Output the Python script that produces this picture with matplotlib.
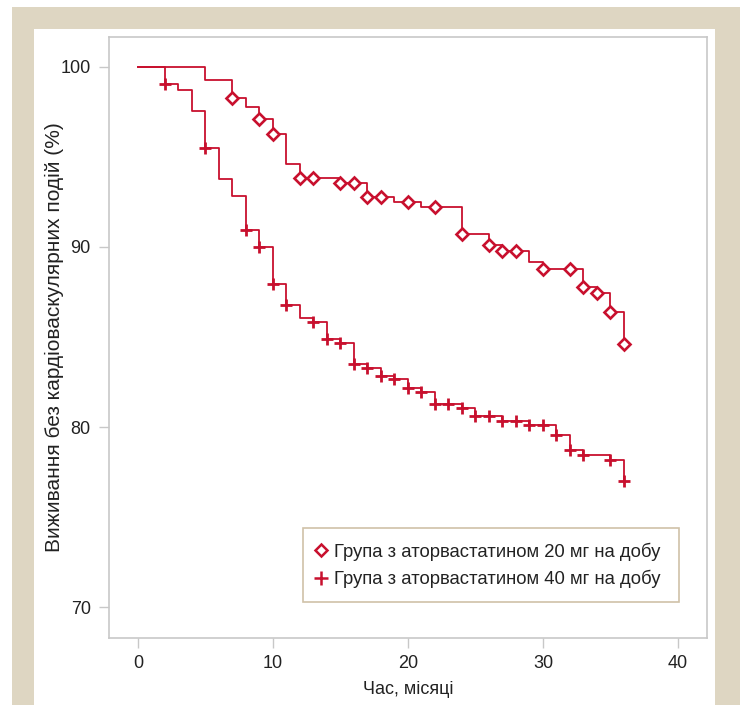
import matplotlib
matplotlib.use("Agg")
import matplotlib.pyplot as plt
from matplotlib.patches import Rectangle
from matplotlib.lines import Line2D

# ---- data ----
# 20 mg group: step times and survival after each step
t20_steps = [0, 5, 7, 8, 9, 10, 11, 12, 15, 17, 19, 21, 24, 26, 27, 29, 30, 33, 34, 35, 36]
s20_steps = [100, 99.28, 98.3, 97.8, 97.1, 96.3, 94.6, 93.85, 93.57, 92.8, 92.5, 92.2,
             90.72, 90.1, 89.8, 89.18, 88.8, 87.8, 87.43, 86.37, 84.6]
t20_marks = [7, 9, 10, 12, 13, 15, 16, 17, 18, 20, 22, 24, 26, 27, 28, 30, 32, 33, 34, 35, 36]
s20_marks = [98.3, 97.1, 96.3, 93.85, 93.85, 93.57, 93.57, 92.8, 92.8, 92.5, 92.2, 90.72,
             90.1, 89.8, 89.8, 88.8, 88.8, 87.8, 87.43, 86.37, 84.6]

# 40 mg group
t40_steps = [0, 2, 3, 4, 5, 6, 7, 8, 9, 10, 11, 12, 13, 14, 15, 16, 17, 18, 19, 20, 21, 22,
             24, 25, 27, 29, 31, 32, 33, 35, 36]
s40_steps = [100, 99.06, 98.7, 97.57, 95.48, 93.8, 92.85, 90.96, 90.02, 87.94, 86.8, 86.04,
             85.85, 84.87, 84.68, 83.48, 83.26, 82.83, 82.65, 82.18, 81.96, 81.28,
             81.04, 80.61, 80.35, 80.11, 79.56, 78.72, 78.44, 78.17, 77.0]
t40_marks = [2, 5, 8, 9, 10, 11, 13, 14, 15, 16, 17, 18, 19, 20, 21, 22, 23, 24, 25, 26, 27,
             28, 29, 30, 31, 32, 33, 35, 36]
s40_marks = [99.06, 95.48, 90.96, 90.02, 87.94, 86.8, 85.85, 84.87, 84.68, 83.48, 83.26,
             82.83, 82.65, 82.18, 81.96, 81.28, 81.28, 81.04, 80.61, 80.61, 80.35, 80.35,
             80.11, 80.11, 79.56, 78.72, 78.44, 78.17, 77.0]

x_ticks = [0, 10, 20, 30, 40]
y_ticks = [70, 80, 90, 100]
label20 = "Група з аторвастатином 20 мг на добу"
label40 = "Група з аторвастатином 40 мг на добу"
x_label = "Час, місяці"
y_label = "Виживання без кардіоваскулярних подій (%)"

# ---- style ----
plt.rcParams['font.family'] = ['Liberation Sans', 'DejaVu Sans']
RED = '#c8102e'
TXT = '#222222'
GRAY = '#c8c8c8'
BEIGE = '#ded6c2'

W, H = 740, 705
fig = plt.figure(figsize=(W / 100, H / 100), dpi=100, facecolor='white')

# background frames
fig.patches.append(Rectangle((12 / W, 0), 1 - 12 / W, 1 - 7 / H, transform=fig.transFigure,
                             facecolor=BEIGE, edgecolor='none', zorder=-10))
fig.patches.append(Rectangle((34 / W, 0), (715 - 34) / W, 1 - 29 / H, transform=fig.transFigure,
                             facecolor='white', edgecolor='none', zorder=-9))

left, right, top, bottom = 108.7, 707, 36.7, 638
ax = fig.add_axes([left / W, 1 - bottom / H, (right - left) / W, (bottom - top) / H])
ax.set_facecolor('white')

ax.step(t20_steps, s20_steps, where='post', color=RED, lw=1.3, zorder=2)
ax.step(t40_steps, s40_steps, where='post', color=RED, lw=1.3, zorder=2)
ax.plot(t20_marks, s20_marks, linestyle='none', marker='D', markersize=6.5,
        markerfacecolor='white', markeredgecolor=RED, markeredgewidth=1.9, zorder=3)
ax.plot(t40_marks, s40_marks, linestyle='none', marker='+', markersize=8.5,
        markeredgecolor=RED, markeredgewidth=2.0, zorder=3)

ax.set_xlim(-2.17, 42.15)
ax.set_ylim(68.28, 101.68)
ax.set_xticks(x_ticks)
ax.set_yticks(y_ticks)
for s in ax.spines.values():
    s.set_color(GRAY)
    s.set_linewidth(1.2)
ax.tick_params(axis='both', direction='out', length=7.5, width=1, color=GRAY,
               labelcolor=TXT, labelsize=13)
ax.tick_params(axis='x', pad=5)
ax.tick_params(axis='y', pad=5.5)

ax.set_xlabel(x_label, fontsize=13, color=TXT)
ax.xaxis.set_label_coords(0.5, (bottom - 690) / (bottom - top))
ax.xaxis.label.set_va('center')
ax.set_ylabel(y_label, fontsize=15, color=TXT)
ax.yaxis.set_label_coords((54 - left) / (right - left), 0.5)
ax.yaxis.label.set_va('center')

handles = [Line2D([], [], linestyle='none', marker='D', markersize=6.3, markerfacecolor='white',
                  markeredgecolor=RED, markeredgewidth=1.8),
           Line2D([], [], linestyle='none', marker='+', markersize=9.5, markeredgecolor=RED,
                  markeredgewidth=1.8)]
lx0 = (303 - left) / (right - left)
lx1 = (679 - left) / (right - left)
ly0 = (bottom - 602) / (bottom - top)
ly1 = (bottom - 529) / (bottom - top)
leg = ax.legend(handles, [label20, label40], loc='lower left',
                bbox_to_anchor=(lx0, ly0, lx1 - lx0, ly1 - ly0), mode='expand',
                borderaxespad=0, fontsize=13.3, frameon=True, fancybox=False,
                borderpad=0.75, handlelength=0.4, handletextpad=0.55, labelspacing=0.5)
leg.get_frame().set_edgecolor('#c4b292')
leg.get_frame().set_linewidth(1.2)
for t in leg.get_texts():
    t.set_color(TXT)

fig.savefig('out.png', dpi=100, facecolor='white')
